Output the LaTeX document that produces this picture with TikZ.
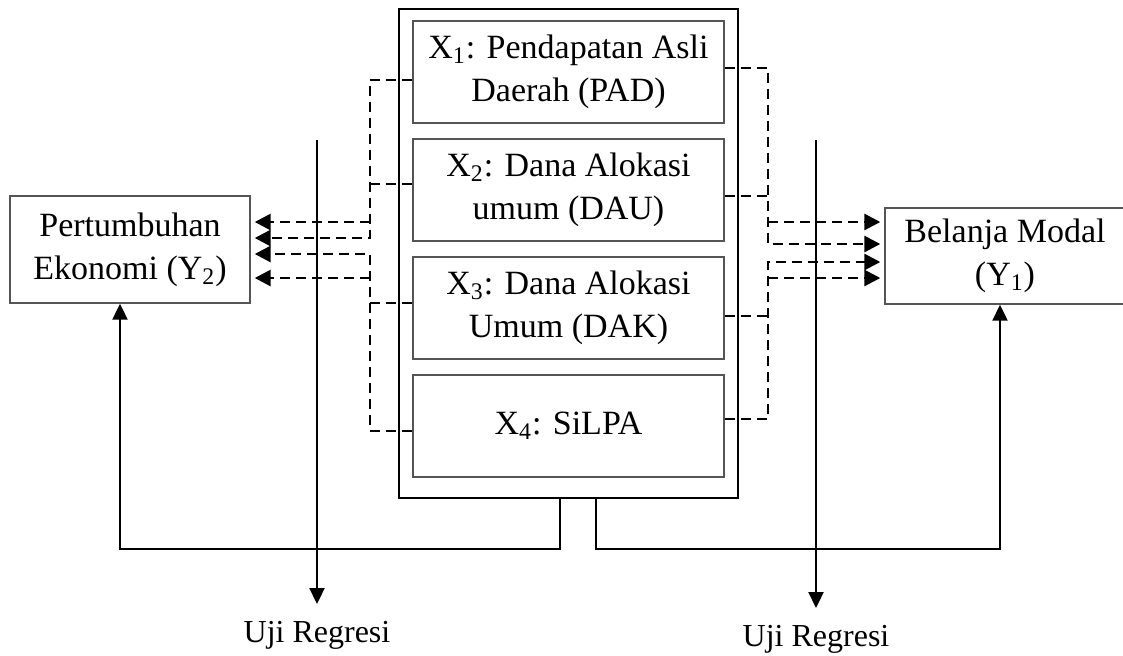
\documentclass[tikz,border=0pt]{standalone}
\usepackage{fontspec}
\setmainfont{Liberation Serif}
\usepackage{tikz}
\usetikzlibrary{arrows.meta, positioning}
\definecolor{boxgray}{RGB}{85,85,85}

\begin{document}
\begin{tikzpicture}[x=0.5pt, y=-0.5pt,
  font=\fontsize{17}{21.5}\selectfont,
  varbox/.style={draw=boxgray, line width=0.7pt, minimum width=155.5pt, minimum height=51pt, align=center, inner sep=0pt},
  sidebox/.style={draw=boxgray, line width=0.7pt, minimum width=120pt, align=center, inner sep=0pt},
  ujilabel/.style={anchor=north, font=\fontsize{16}{20}\selectfont},
  conn/.style={line width=1.1pt, -{Triangle[length=8pt,width=7.5pt]}},
  dashln/.style={line width=1.4pt, dash pattern=on 5pt off 3pt},
  dasharr/.style={dashln, -{Triangle[length=8pt,width=8pt]}, shorten >=2pt}]
  \useasboundingbox (0,0) rectangle (1123,655);

  % Independent variables
  \node[draw, line width=1.1pt, minimum width=169.5pt, minimum height=244.5pt] (panel) at (568.5,253.5) {};
  \node[varbox] (x1) at (568.5,72) {X\textsubscript{1}: Pendapatan Asli\\Daerah (PAD)};
  \node[varbox] (x2) at (568.5,190) {X\textsubscript{2}: Dana Alokasi\\umum (DAU)};
  \node[varbox] (x3) at (568.5,308) {X\textsubscript{3}: Dana Alokasi\\Umum (DAK)};
  \node[varbox] (x4) at (568.5,426) {X\textsubscript{4}: SiLPA};

  % Dependent variables
  \node[sidebox, minimum height=53.5pt] (y2) at (130,249.5) {Pertumbuhan\\Ekonomi (Y\textsubscript{2})};
  \node[sidebox, minimum height=48pt] (y1) at (1005,256) {Belanja Modal\\(Y\textsubscript{1})};

  % Left side: X -> Y2
  \draw[dasharr] (x1.west |- 0,80) -- (370,80) -- (370,238) -- (y2.east |- 0,238);
  \draw[dashln] (x2.west |- 0,184) -- (370,184);
  \draw[dasharr] (370,222) -- (y2.east |- 0,222);
  \draw[dasharr] (x4.west |- 0,431) -- (370,431) -- (370,254) -- (y2.east |- 0,254);
  \draw[dashln] (x3.west |- 0,303) -- (370,303);
  \draw[dasharr] (370,278) -- (y2.east |- 0,278);

  % Right side: X -> Y1
  \draw[dasharr] (x1.east |- 0,68) -- (768,68) -- (768,244) -- (y1.west |- 0,244);
  \draw[dashln] (x2.east |- 0,196) -- (768,196);
  \draw[dasharr] (768,222) -- (y1.west |- 0,222);
  \draw[dasharr] (x4.east |- 0,419) -- (768,419) -- (768,262) -- (y1.west |- 0,262);
  \draw[dashln] (x3.east |- 0,316) -- (768,316);
  \draw[dasharr] (768,278) -- (y1.west |- 0,278);

  % Regression tests
  \coordinate (regL) at (317,140);
  \coordinate (regR) at (816,140);
  \node[ujilabel] (uji1) at (317,614) {Uji Regresi};
  \node[ujilabel] (uji2) at (816,618) {Uji Regresi};
  \draw[conn, shorten >=5pt] (regL) -- (uji1.north);
  \draw[conn, shorten >=5pt] (regR) -- (uji2.north);

  % Panel -> dependent variables
  \draw[conn] (panel.south -| 560,0) -- (560,549) -| (y2.south -| 120,0);
  \draw[conn] (panel.south -| 596,0) -- (596,549) -| (y1.south -| 1000,0);
\end{tikzpicture}
\end{document}
